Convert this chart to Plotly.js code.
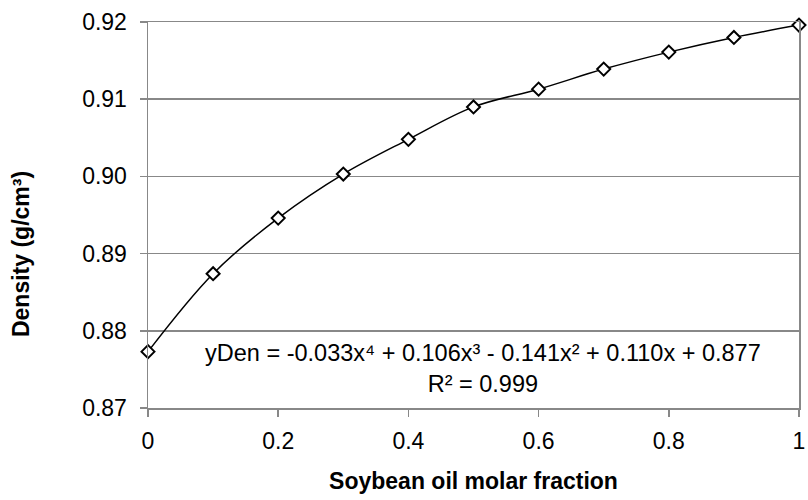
<!DOCTYPE html>
<html>
<head>
<meta charset="utf-8">
<script src="https://cdn.plot.ly/plotly-3.0.1.min.js"></script>
<style>html,body{margin:0;padding:0;background:#fff;}</style>
</head>
<body>
<div id="chart" style="width:808px;height:500px;"></div>
<script>
const molarFraction = [0, 0.1, 0.2, 0.3, 0.4, 0.5, 0.6, 0.7, 0.8, 0.9, 1.0];
const density = [0.8773, 0.8874, 0.8946, 0.9003, 0.9048, 0.9090, 0.9113, 0.9139, 0.9161, 0.9180, 0.9196];
const xTicks = [0, 0.2, 0.4, 0.6, 0.8, 1];
const yTicks = [0.87, 0.88, 0.89, 0.90, 0.91, 0.92];
const equationText = "yDen = -0.033x⁴ + 0.106x³ - 0.141x² + 0.110x + 0.877<br>R² = 0.999";

const FONT = "Liberation Sans, Arial, sans-serif";
const GRAY = "#888888";

const trace = {
  x: molarFraction,
  y: density,
  type: "scatter",
  mode: "lines+markers",
  cliponaxis: false,
  line: {shape: "spline", color: "#000", width: 1.5},
  marker: {symbol: "diamond", size: 10, color: "#fff", line: {color: "#000", width: 2}},
  showlegend: false,
  hoverinfo: "skip"
};

const layout = {
  width: 808, height: 500,
  margin: {l: 148, r: 9, t: 22, b: 92},
  paper_bgcolor: "#fff", plot_bgcolor: "#fff",
  font: {family: FONT, size: 23, color: "#000"},
  xaxis: {
    range: [0, 1], tickvals: xTicks, ticktext: xTicks.map(String),
    ticks: "outside", ticklen: 7, tickwidth: 1.5, tickcolor: GRAY,
    showline: true, linecolor: GRAY, linewidth: 1.5, mirror: true,
    showgrid: false, zeroline: false,
    tickfont: {family: FONT, size: 23},
    ticklabelstandoff: 5,
    title: {text: "Soybean oil molar fraction", font: {family: FONT, size: 23, weight: "bold"}, standoff: 20}
  },
  yaxis: {
    range: [0.87, 0.92], tickvals: yTicks, tickformat: ".2f",
    ticks: "outside", ticklen: 7, tickwidth: 1.5, tickcolor: GRAY,
    showline: true, linecolor: GRAY, linewidth: 1.5, mirror: true,
    showgrid: true, gridcolor: GRAY, gridwidth: 1.5, zeroline: false,
    tickfont: {family: FONT, size: 23},
    ticklabelstandoff: 8
  },
  annotations: [
    {
      text: "<b>Density (g/cm³)</b>", textangle: -90,
      xref: "paper", yref: "paper", x: -0.195, y: 0.399,
      xanchor: "center", yanchor: "middle", showarrow: false,
      font: {family: FONT, size: 23, color: "#000"}
    },
    {
      text: equationText,
      xref: "paper", yref: "paper", x: 0.5146, y: 0.1036,
      xanchor: "center", yanchor: "middle", align: "center", showarrow: false,
      font: {family: FONT, size: 23.5, color: "#000"}
    }
  ]
};

Plotly.newPlot("chart", [trace], layout, {displayModeBar: false, staticPlot: true});
</script>
</body>
</html>
